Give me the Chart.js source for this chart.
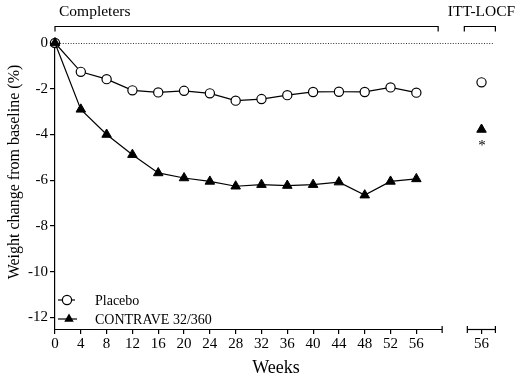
<!DOCTYPE html>
<html><head><meta charset="utf-8">
<script src="https://cdn.jsdelivr.net/npm/chart.js@4/dist/chart.umd.min.js"></script>
<style>html,body{margin:0;padding:0;background:#fff}canvas{display:block}</style>
</head><body>
<div style="width:525px;height:379px"><canvas id="c" width="525" height="379"></canvas></div>
<script>
// ---- data ----
const weeks = [0,4,8,12,16,20,24,28,32,36,40,44,48,52,56];
const placebo = [0,-1.26,-1.58,-2.07,-2.16,-2.09,-2.2,-2.52,-2.45,-2.28,-2.14,-2.13,-2.14,-1.94,-2.17];
const contrave = [0,-2.9,-4.0,-4.88,-5.68,-5.9,-6.05,-6.26,-6.19,-6.23,-6.19,-6.08,-6.65,-6.05,-5.94];
const ittWeek = 56;
const ittPlacebo = [-1.72];
const ittContrave = [-3.78];
const yTicks = [0,-2,-4,-6,-8,-10,-12];
const seriesNames = ['Placebo','CONTRAVE 32/360'];
const sectionLabels = ['Completers','ITT-LOCF'];
const yTitle = 'Weight change from baseline (%)';
const xTitle = 'Weeks';

// ---- layout (axis break positions, in x-scale units) ----
const X_MAX = 68.5, COMPLETERS_END = 60, ITT_START = 63.9, ITT_POS = 66.1, ITT_END = 68.25, ZERO_END = 67.9;
const SERIF = '"Liberation Serif","Times New Roman",serif';

const brokenAxis = {
  id: 'brokenAxis',
  beforeDatasetsDraw(chart) {
    const {ctx, scales:{x,y}} = chart;
    const y0 = y.getPixelForValue(0);
    ctx.save();
    ctx.strokeStyle = '#333'; ctx.lineWidth = 1; ctx.setLineDash([1,1.6]);
    ctx.beginPath(); ctx.moveTo(x.getPixelForValue(0), y0+0.5); ctx.lineTo(x.getPixelForValue(ZERO_END), y0+0.5); ctx.stroke();
    ctx.restore();
  },
  afterDraw(chart) {
    const {ctx, chartArea:a, scales:{x,y}} = chart;
    ctx.save();
    ctx.strokeStyle = '#000'; ctx.lineWidth = 1.2; ctx.fillStyle = '#000';
    const yb = Math.round(a.bottom) + 0.5;
    const seg = (s,e) => {
      const ps = x.getPixelForValue(s), pe = x.getPixelForValue(e);
      ctx.beginPath(); ctx.moveTo(ps, yb); ctx.lineTo(pe, yb); ctx.stroke();
      return [ps,pe];
    };
    const bar = (px) => { ctx.beginPath(); ctx.moveTo(px, yb-3.5); ctx.lineTo(px, yb+3.5); ctx.stroke(); };
    const [, c1] = seg(0, COMPLETERS_END); bar(c1);
    const [i0, i1] = seg(ITT_START, ITT_END); bar(i0); bar(i1);
    // section brackets
    const by = 26.5;
    const bracket = (l, r) => {
      ctx.beginPath(); ctx.moveTo(l, by+5); ctx.lineTo(l, by); ctx.lineTo(r, by); ctx.lineTo(r, by+5); ctx.stroke();
    };
    bracket(x.getPixelForValue(0), x.getPixelForValue(COMPLETERS_END) - 4);
    bracket(x.getPixelForValue(ITT_START) - 3, x.getPixelForValue(ITT_END));
    ctx.font = '15.5px ' + SERIF; ctx.textBaseline = 'middle';
    ctx.textAlign = 'left'; ctx.fillText(sectionLabels[0], x.getPixelForValue(0) + 4, 12);
    ctx.textAlign = 'center'; ctx.fillText(sectionLabels[1], x.getPixelForValue(ITT_POS), 12);
    // y-axis title
    ctx.save();
    ctx.translate(15, 172); ctx.rotate(-Math.PI/2);
    ctx.font = '16px ' + SERIF; ctx.textAlign = 'center';
    ctx.fillText(yTitle, 0, 0);
    ctx.restore();
    // asterisk under ITT CONTRAVE point
    const pt = chart.getDatasetMeta(3).data[0];
    ctx.font = '15px ' + SERIF; ctx.textAlign = 'center';
    ctx.fillText('*', pt.x + 0.5, pt.y + 17);
    // legend
    const rows = [a.bottom - 29, a.bottom - 10];
    ctx.font = '14px ' + SERIF; ctx.textAlign = 'left';
    rows.forEach((ry, i) => {
      const lx = a.left + 3;
      ctx.lineWidth = 1.2;
      ctx.beginPath(); ctx.moveTo(lx, ry); ctx.lineTo(lx + (i ? 19 : 17), ry); ctx.stroke();
      const cx = lx + (i ? 11 : 9);
      if (i === 0) {
        ctx.beginPath(); ctx.arc(cx, ry, 4.6, 0, Math.PI*2); ctx.fillStyle = '#fff'; ctx.fill(); ctx.stroke();
      } else {
        const r = 5.5;
        ctx.beginPath();
        ctx.moveTo(cx, ry - r); ctx.lineTo(cx + r*0.866, ry + r/2); ctx.lineTo(cx - r*0.866, ry + r/2); ctx.closePath();
        ctx.fillStyle = '#000'; ctx.fill();
      }
      ctx.fillStyle = '#000';
      ctx.fillText(chart.data.datasets[i].label, a.left + 40, ry + 1);
    });
    ctx.restore();
  }
};

const circleStyle = {pointStyle:'circle', pointRadius:4.6, pointHoverRadius:4.6, pointBackgroundColor:'#fff', pointBorderColor:'#000', pointBorderWidth:1.2};
const triStyle = {pointStyle:'triangle', pointRadius:5.5, pointHoverRadius:5.5, pointBackgroundColor:'#000', pointBorderColor:'#000', pointBorderWidth:1};

new Chart(document.getElementById('c'), {
  type: 'line',
  data: {
    datasets: [
      Object.assign({label: seriesNames[0], data: weeks.map((w,i)=>({x:w, y:placebo[i]})), borderColor:'#000', borderWidth:1.2, clip:false, order:1}, circleStyle),
      Object.assign({label: seriesNames[1], data: weeks.map((w,i)=>({x:w, y:contrave[i]})), borderColor:'#000', borderWidth:1.2, clip:false, order:0}, triStyle),
      Object.assign({label: seriesNames[0] + ' ITT-LOCF', data: ittPlacebo.map(v=>({x:ITT_POS, y:v})), showLine:false, clip:false}, circleStyle),
      Object.assign({label: seriesNames[1] + ' ITT-LOCF', data: ittContrave.map(v=>({x:ITT_POS, y:v})), showLine:false, clip:false}, triStyle)
    ]
  },
  options: {
    responsive: false, animation: false, devicePixelRatio: 1,
    layout: {padding: {left:0, top:43, right:28, bottom:0}},
    plugins: {legend:{display:false}, tooltip:{enabled:false}},
    scales: {
      x: {
        type:'linear', min:0, max:X_MAX,
        afterBuildTicks: s => { s.ticks = weeks.map(v=>({value:v})).concat([{value:ITT_POS}]); },
        afterFit: s => { s.height = 50; },
        ticks: {autoSkip:false, maxRotation:0, padding:1, color:'#000', font:{family:SERIF, size:15},
          callback: v => v === ITT_POS ? String(ittWeek) : String(v)},
        grid: {drawOnChartArea:false, drawTicks:true, tickLength:5, color:'#000', lineWidth:1.2},
        border: {display:false},
        title: {display:true, text:xTitle, color:'#000', font:{family:SERIF, size:18}, padding:{top:0, bottom:0}}
      },
      y: {
        type:'linear', min:-12.5, max:0,
        afterBuildTicks: s => { s.ticks = yTicks.map(v=>({value:v})); },
        afterFit: s => { s.width = 55; },
        ticks: {padding:2, color:'#000', font:{family:SERIF, size:15}},
        grid: {drawOnChartArea:false, drawTicks:true, tickLength:5, color:'#000', lineWidth:1.2},
        border: {display:true, color:'#000', width:1.2},
        title: {display:false}
      }
    }
  },
  plugins: [brokenAxis]
});
</script>
</body></html>
